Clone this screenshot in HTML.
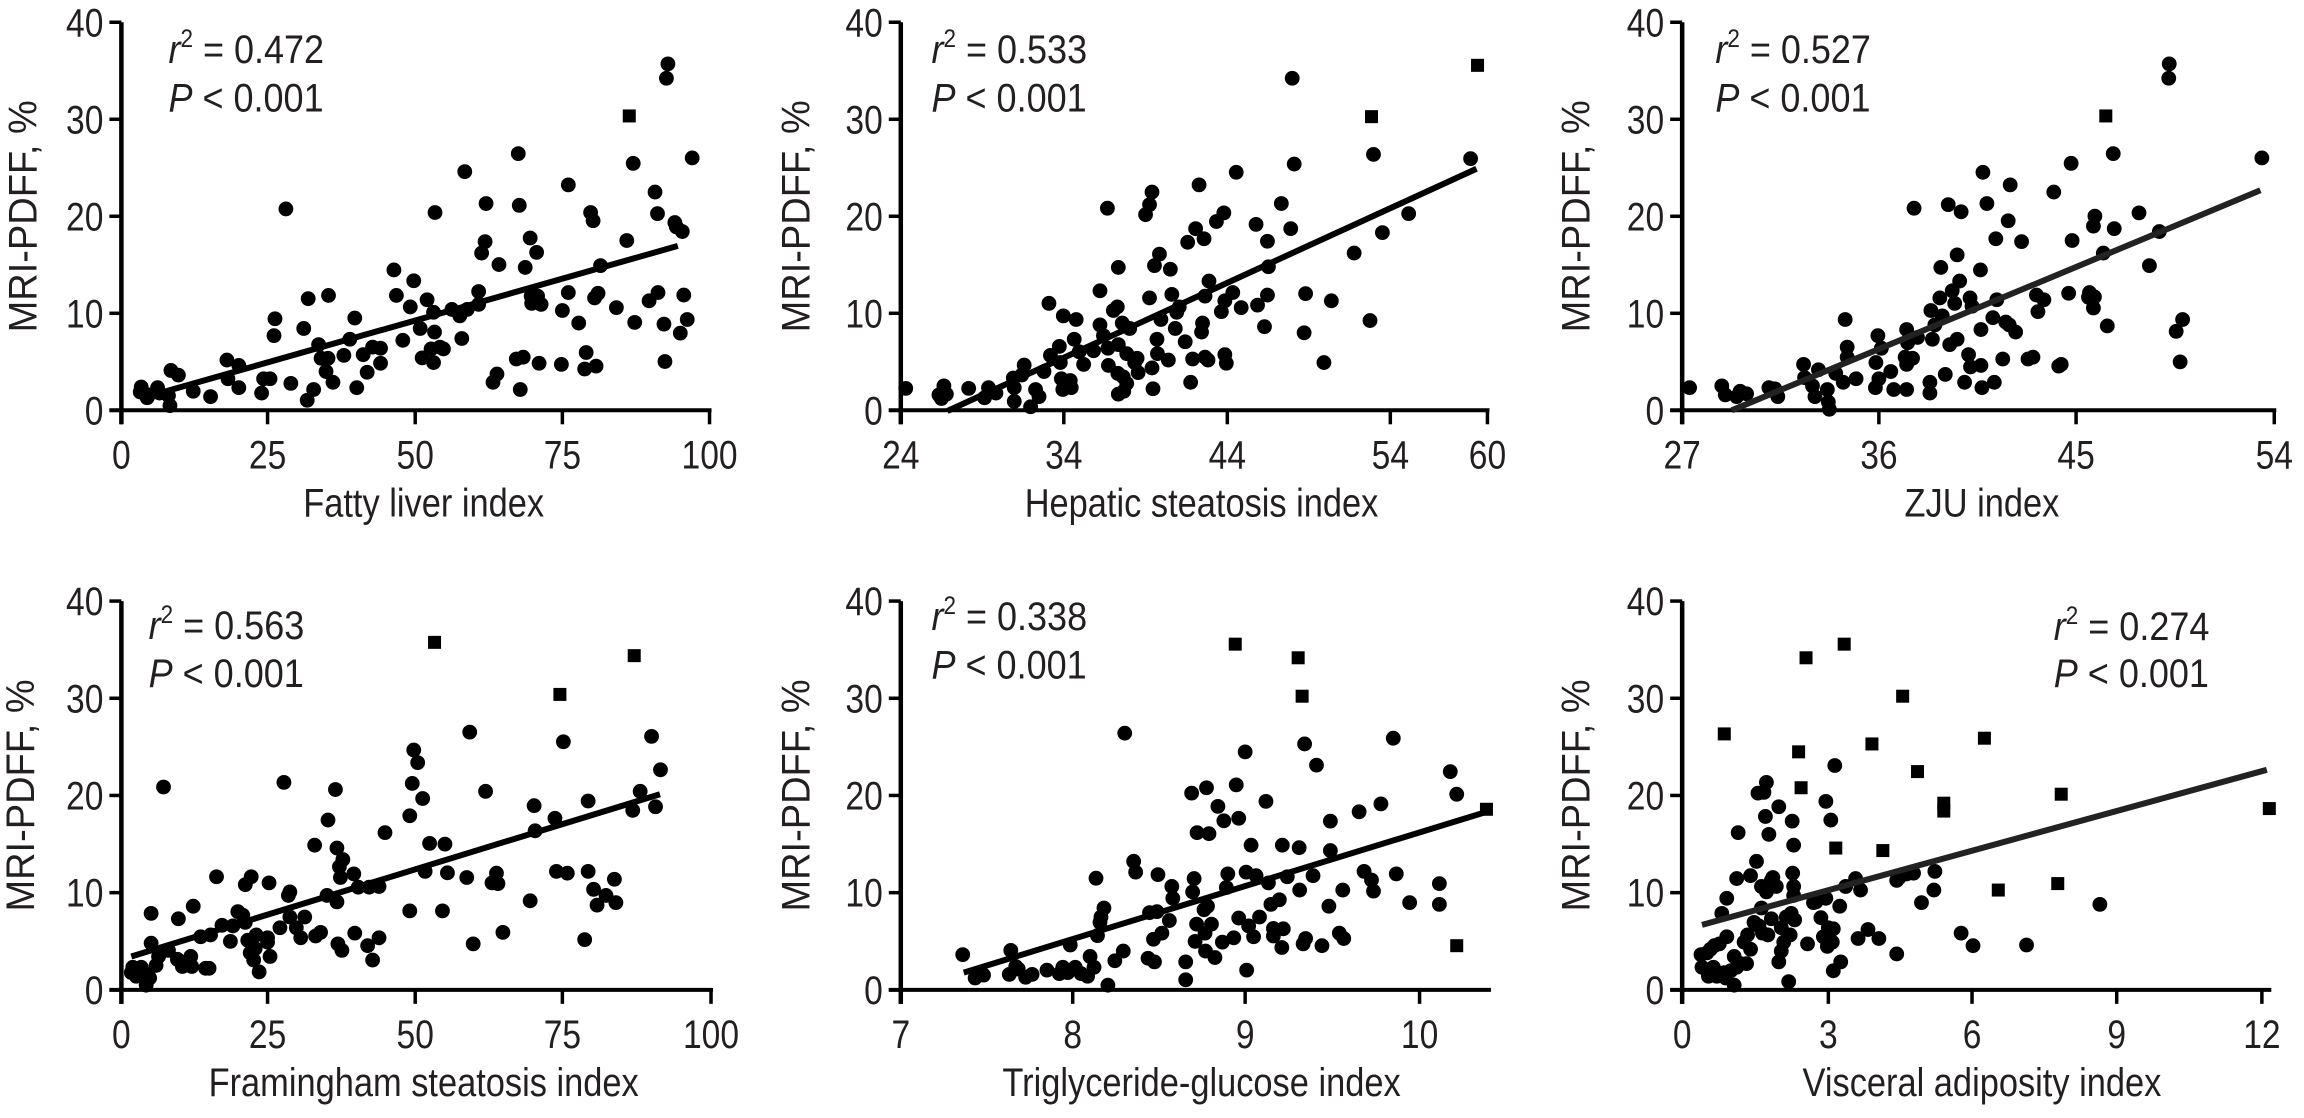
<!DOCTYPE html>
<html><head><meta charset="utf-8"><style>
html,body{margin:0;padding:0;background:#fff;}
svg{display:block;}
text{font-family:"Liberation Sans",sans-serif;fill:#231f20;}
</style></head><body>
<svg id="s" width="2304" height="1118" viewBox="0 0 2304 1118" xmlns="http://www.w3.org/2000/svg"></svg>
<script>
var S=document.getElementById('s'),NS='http://www.w3.org/2000/svg';
function el(t,a,txt,par){var e=document.createElementNS(NS,t);for(var k in a)e.setAttribute(k,a[k]);if(txt!==undefined&&txt!==null)e.textContent=txt;(par||S).appendChild(e);return e;}
function T(x,y,sx,rot,attrs,txt){var g=el('g',{transform:'translate('+x+' '+y+')'+(rot?' rotate('+rot+')':'')+' scale('+sx+' 1)'});return el('text',Object.assign({x:0,y:0},attrs),txt,g);}
var KX=768/1550,KY=560/1560;
var P=[
{o:[0,0],ax:245,y0:1143,yt:62,xe:1432,xt:[[245,'0'],[540,'25'],[838,'50'],[1135,'75'],[1432,'100']],ann:[340,175,310],r:'0.472',tl:'Fatty liver index',tx:855,ylx:45,
line:[335,1090,1368,685],sq:[[1270,323]],
c:[[283,1092],[285,1078],[297,1108],[300,1100],[318,1080],[322,1095],[340,1102],[343,1130],[345,1032],[360,1045],[390,1090],[425,1105],[458,1003],[460,1055],[482,1018],[482,1080],[528,1095],[532,1055],[545,1055],[555,888],[553,935],[577,582],[587,1068],[613,915],[622,832],[620,1115],[633,1085],[643,960],[648,998],[658,1035],[662,998],[663,823],[672,1065],[694,990],[706,945],[716,886],[720,1080],[733,988],[741,1037],[752,967],[768,970],[768,1012],[795,752],[800,823],[813,948],[828,855],[835,782],[848,915],[852,997],[862,835],[870,972],[875,870],[875,1010],[877,925],[878,592],[888,967],[895,972],[912,862],[928,880],[932,943],[938,478],[943,862],[966,812],[966,848],[972,705],[979,673],[981,567],[995,1065],[1003,1042],[1007,737],[1042,1000],[1046,428],[1048,572],[1050,1085],[1056,995],[1060,745],[1070,663],[1072,825],[1073,845],[1083,703],[1085,825],[1088,1012],[1092,848],[1133,1015],[1135,865],[1147,515],[1147,815],[1168,900],[1180,1028],[1183,982],[1192,592],[1197,615],[1200,830],[1203,1020],[1207,817],[1212,740],[1244,857],[1265,670],[1278,455],[1281,898],[1310,838],[1322,535],[1327,595],[1328,815],[1340,903],[1342,1007],[1345,218],[1348,178],[1362,620],[1365,632],[1373,928],[1377,645],[1380,822],[1387,890],[1397,440]]},
{o:[768,0],ax:268,y0:1143,yt:62,xe:1452,xt:[[268,'24'],[597,'34'],[927,'44'],[1256,'54'],[1452,'60']],ann:[330,175,310],r:'0.533',tl:'Hepatic steatosis index',tx:875,ylx:55,
line:[362,1145,1430,470],sq:[[1218,325],[1432,182]],
c:[[278,1082],[345,1100],[350,1110],[355,1075],[360,1098],[405,1082],[437,1108],[445,1080],[460,1095],[495,1053],[497,1080],[497,1118],[517,1017],[512,1045],[530,1133],[540,1085],[547,1105],[557,1035],[567,845],[570,990],[588,965],[590,1010],[592,1055],[595,1085],[596,880],[610,1060],[612,1080],[618,945],[622,890],[628,980],[637,1015],[657,977],[670,810],[670,905],[677,935],[685,580],[686,970],[687,1018],[697,865],[705,855],[707,745],[707,960],[706,1040],[707,1098],[715,900],[717,1050],[718,1090],[724,1068],[724,985],[730,915],[740,1010],[745,998],[747,1038],[762,598],[770,570],[775,535],[770,830],[775,1025],[777,1083],[780,740],[785,945],[786,985],[790,708],[793,890],[808,1003],[812,750],[815,820],[822,915],[825,870],[830,855],[842,952],[847,675],[853,1065],[857,1000],[863,637],[870,515],[875,925],[877,900],[880,665],[882,825],[882,995],[888,1003],[890,783],[905,617],[915,868],[920,593],[922,838],[922,988],[925,1012],[938,815],[945,480],[955,857],[985,625],[988,850],[1002,910],[1008,672],[1008,822],[1010,743],[1036,567],[1055,637],[1058,218],[1062,457],[1082,927],[1085,818],[1122,1010],[1137,838],[1183,705],[1215,893],[1222,430],[1240,648],[1293,595],[1418,442]]},
{o:[1536,0],ax:295,y0:1143,yt:62,xe:1490,xt:[[295,'27'],[692,'36'],[1090,'45'],[1490,'54']],ann:[362,175,310],r:'0.527',tl:'ZJU index',tx:900,ylx:80,
line:[395,1143,1462,530],grey:1,sq:[[1150,323]],
c:[[310,1080],[375,1075],[382,1100],[405,1105],[412,1090],[425,1097],[470,1080],[482,1083],[488,1105],[540,1015],[542,1052],[558,1075],[563,1105],[570,1030],[588,1085],[590,1120],[592,1140],[605,1040],[620,1065],[624,890],[628,967],[628,995],[646,1055],[685,1080],[686,1010],[690,935],[692,1055],[697,970],[716,1035],[722,1085],[745,995],[748,1085],[748,918],[748,1015],[750,955],[760,998],[763,580],[770,940],[795,1065],[795,1095],[797,865],[800,945],[805,905],[815,830],[817,745],[820,880],[826,1043],[832,570],[835,960],[840,810],[845,845],[850,710],[850,945],[855,783],[858,590],[865,1065],[873,988],[876,830],[877,1022],[880,853],[897,752],[898,918],[898,1018],[900,1080],[902,480],[910,567],[922,885],[925,1065],[928,665],[930,835],[942,1000],[948,897],[953,615],[955,905],[957,515],[968,925],[980,673],[993,1000],[1003,995],[1010,822],[1013,868],[1025,835],[1045,535],[1055,1020],[1060,1015],[1075,817],[1080,455],[1082,670],[1115,828],[1117,815],[1125,630],[1125,858],[1128,602],[1127,827],[1145,705],[1153,908],[1165,428],[1167,637],[1217,593],[1238,740],[1258,645],[1277,218],[1278,178],[1292,923],[1300,1008],[1305,890],[1465,440]]},
{o:[0,558],ax:245,y0:1203,yt:120,xe:1435,xt:[[245,'0'],[540,'25'],[838,'50'],[1135,'75'],[1435,'100']],ann:[300,225,360],r:'0.563',tl:'Framingham steatosis index',tx:855,ylx:40,
line:[265,1110,1332,658],sq:[[877,235],[1130,380],[1280,272]],
c:[[265,1155],[268,1140],[275,1165],[285,1140],[290,1155],[295,1190],[302,1170],[305,990],[305,1073],[315,1135],[320,1110],[330,638],[340,1093],[358,1118],[360,1005],[368,1138],[385,1110],[387,1138],[390,970],[405,1055],[415,1143],[422,1143],[425,1050],[437,888],[448,1023],[465,1068],[470,1025],[480,985],[490,995],[495,1015],[495,910],[500,1065],[507,888],[505,1100],[512,1120],[515,1088],[517,1050],[523,1153],[540,1058],[540,1070],[543,905],[545,1110],[565,1030],[573,625],[582,940],[585,930],[585,1000],[598,1030],[607,1058],[615,1000],[637,1053],[635,800],[647,1043],[660,940],[662,730],[677,645],[680,808],[680,958],[682,1075],[685,860],[687,890],[690,1093],[692,840],[714,880],[716,1045],[723,917],[742,1080],[745,917],[752,1120],[765,915],[765,1058],[777,765],[827,983],[827,718],[832,628],[835,535],[843,570],[853,670],[858,873],[867,795],[893,983],[898,797],[903,877],[942,890],[948,485],[955,1075],[980,650],[993,905],[1002,878],[1005,907],[1015,1043],[1070,955],[1078,690],[1080,760],[1120,725],[1123,873],[1137,512],[1145,878],[1180,1063],[1187,677],[1187,873],[1198,923],[1205,967],[1223,940],[1240,895],[1243,960],[1277,703],[1292,650],[1315,497],[1323,693],[1333,590]]},
{o:[768,558],ax:268,y0:1203,yt:120,xe:1455,xt:[[268,'7'],[615,'8'],[963,'9'],[1315,'10']],ann:[330,200,335],r:'0.338',tl:'Triglyceride-glucose index',tx:875,ylx:55,
line:[395,1155,1455,705],sq:[[943,240],[1070,278],[1078,385],[1390,1080],[1450,700]],
c:[[393,1105],[418,1170],[435,1162],[487,1160],[490,1093],[500,1138],[505,1145],[520,1168],[533,1160],[563,1148],[588,1158],[595,1140],[605,1155],[610,1078],[620,1140],[632,1158],[645,1165],[650,1110],[658,1140],[662,892],[665,1052],[670,1015],[672,1000],[678,975],[686,1190],[700,1122],[717,1095],[720,488],[738,845],[742,875],[767,1115],[770,988],[778,1062],[780,1125],[785,985],[787,882],[795,1045],[810,1010],[815,915],[817,948],[843,1125],[843,1175],[855,655],[857,930],[860,893],[862,1068],[865,1020],[866,765],[880,980],[882,1045],[883,1095],[885,640],[887,970],[890,768],[895,1020],[902,1113],[908,692],[917,1070],[920,732],[925,918],[928,880],[940,1058],[945,632],[950,1003],[950,725],[963,540],[965,875],[966,1148],[970,1025],[975,800],[980,1055],[985,885],[992,1000],[1005,678],[1010,905],[1015,965],[1020,1053],[1020,1032],[1032,952],[1037,1085],[1038,800],[1040,1033],[1048,888],[1072,807],[1073,925],[1080,1075],[1083,518],[1085,1060],[1100,885],[1107,577],[1118,1080],[1132,970],[1135,733],[1135,815],[1153,1045],[1162,1060],[1160,925],[1193,707],[1203,873],[1218,897],[1222,928],[1237,685],[1262,502],[1268,880],[1295,960],[1355,907],[1355,965],[1377,595],[1390,658]]},
{o:[1536,558],ax:295,y0:1203,yt:120,xe:1480,xt:[[295,'0'],[590,'3'],[880,'6'],[1172,'9'],[1465,'12']],ann:[1045,228,360],r:'0.274',tl:'Visceral adiposity index',tx:900,ylx:80,
line:[335,1022,1475,590],grey:1,sq:[[380,490],[530,540],[545,278],[622,240],[535,640],[605,808],[678,518],[700,815],[740,385],[770,595],[823,683],[823,705],[905,502],[933,925],[1053,907],[1060,658],[1480,698]],
c:[[333,1105],[335,1140],[345,1100],[348,1165],[352,1090],[358,1140],[360,1080],[365,1165],[370,1075],[375,990],[380,1155],[383,1170],[385,1055],[385,948],[393,1150],[400,1110],[400,1190],[405,1140],[405,893],[408,765],[413,1130],[420,1070],[425,1130],[427,1050],[433,1090],[433,885],[440,1015],[445,845],[448,655],[450,1025],[455,915],[455,975],[457,1045],[460,653],[463,720],[465,625],[465,930],[468,1050],[470,770],[475,1005],[475,898],[478,890],[485,915],[490,1125],[490,693],[495,1095],[495,1030],[500,1070],[505,1000],[510,1180],[513,1050],[515,990],[517,733],[518,878],[520,800],[520,915],[520,940],[522,1008],[548,1075],[560,960],[565,958],[575,1002],[580,1055],[585,678],[585,948],[588,1082],[590,1030],[595,730],[598,1070],[600,1033],[600,1150],[603,578],[613,970],[615,1125],[625,915],[645,893],[650,1060],[655,925],[670,1035],[692,1060],[728,898],[728,1103],[733,890],[748,880],[762,878],[778,960],[803,925],[805,873],[858,1045],[882,1080],[990,1078],[1138,965]]}
];
P.forEach(function(p){
 var ox=p.o[0],oy=p.o[1];
 function X(z){return ox+z*KX;} function Y(z){return oy+z*KY;}
 var ax=X(p.ax),y0=Y(p.y0),yt=Y(p.yt),xe=X(p.xe);
 el('line',{x1:ax,y1:yt,x2:ax,y2:y0+14,stroke:'#000','stroke-width':4.5});
 el('line',{x1:ax-12,y1:y0,x2:xe+2,y2:y0,stroke:'#000','stroke-width':4});
 for(var i=0;i<5;i++){var yy=y0+(yt-y0)*i/4;
  el('line',{x1:ax-12,y1:yy,x2:ax,y2:yy,stroke:'#000','stroke-width':3.5});
  T(ax-18,yy+14,0.84,0,{'text-anchor':'end','font-size':40},String(i*10));}
 p.xt.forEach(function(t){var xx=X(t[0]);
  el('line',{x1:xx,y1:y0,x2:xx,y2:y0+14,stroke:'#000','stroke-width':3.5});
  T(xx,y0+58,0.84,0,{'text-anchor':'middle','font-size':40},t[1]);});
 T(X(p.tx),y0+106,0.86,0,{'text-anchor':'middle','font-size':40},p.tl);
 var cy=(yt+y0)/2,cx=X(p.ylx)+14;
 T(cx,cy,0.95,-90,{'text-anchor':'middle','font-size':40},'MRI-PDFF, %');
 var t1=T(X(p.ann[0]),Y(p.ann[1]),0.9,0,{'font-size':40},null);
 t1.innerHTML='<tspan font-style="italic">r</tspan><tspan dy="-16" font-size="25">2</tspan><tspan dy="16"> = '+p.r+'</tspan>';
 var t2=T(X(p.ann[0]),Y(p.ann[2]),0.9,0,{'font-size':40},null);
 t2.innerHTML='<tspan font-style="italic">P</tspan> &lt; 0.001';
 p.c.forEach(function(c){el('circle',{cx:X(c[0]),cy:Y(c[1]),r:7.4,fill:'#000'});});
 p.sq.forEach(function(c){el('rect',{x:X(c[0])-6.5,y:Y(c[1])-6.5,width:13,height:13,fill:'#000'});});
 var L=p.line;
 el('line',{x1:X(L[0]),y1:Y(L[1]),x2:X(L[2]),y2:Y(L[3]),stroke:p.grey?'#222':'#000','stroke-width':6});
});
</script>
</body></html>
